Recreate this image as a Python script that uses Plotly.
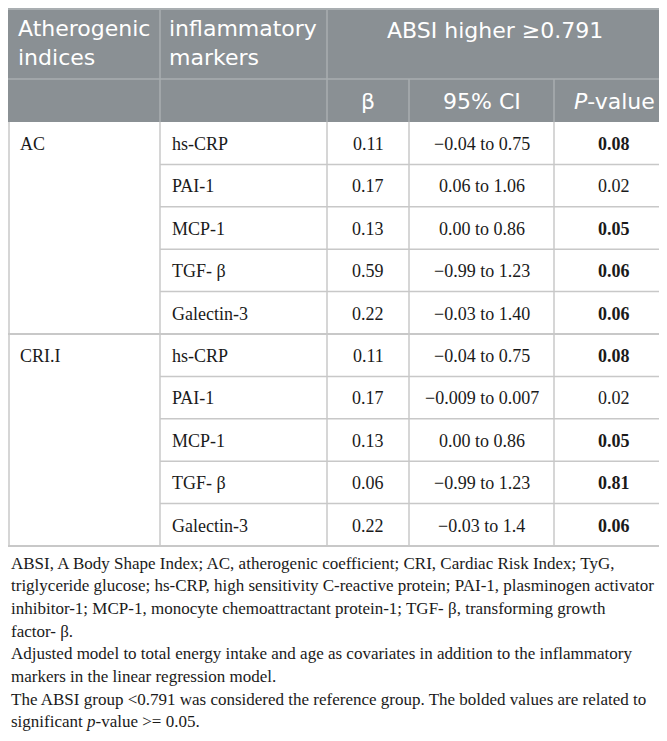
import plotly.graph_objects as go

# table values
indices = ["AC", "CRI.I"]
markers = ["hs-CRP", "PAI-1", "MCP-1", "TGF- β", "Galectin-3"]
beta_ac = [0.11, 0.17, 0.13, 0.59, 0.22]
beta_cri = [0.11, 0.17, 0.13, 0.06, 0.22]
ci_ac = ["−0.04 to 0.75", "0.06 to 1.06", "0.00 to 0.86", "−0.99 to 1.23", "−0.03 to 1.40"]
ci_cri = ["−0.04 to 0.75", "−0.009 to 0.007", "0.00 to 0.86", "−0.99 to 1.23", "−0.03 to 1.4"]
p_ac = [0.08, 0.02, 0.05, 0.06, 0.06]
p_cri = [0.08, 0.02, 0.05, 0.81, 0.06]

footnotes = [
    "ABSI, A Body Shape Index; AC, atherogenic coefficient; CRI, Cardiac Risk Index; TyG,",
    "triglyceride glucose; hs-CRP, high sensitivity C-reactive protein; PAI-1, plasminogen activator",
    "inhibitor-1; MCP-1, monocyte chemoattractant protein-1; TGF- β, transforming growth",
    "factor- β.",
    "Adjusted model to total energy intake and age as covariates in addition to the inflammatory",
    "markers in the linear regression model.",
    "The ABSI group &lt;0.791 was considered the reference group. The bolded values are related to",
    "significant <i>p</i>-value &gt;= 0.05.",
]

W, H = 667, 741
cols = [1, 152, 319, 401, 546, 666]
head_top, head_mid, head_bot = 1, 71, 114
row_h = 42.4
HEAD_FILL = "#8a9094"
HEAD_LINE = "#a9aeb1"
BODY_LINE = "#c8c8c8"
INK = "#1a1a1a"
SANS = "DejaVu Sans"
SERIF = "Liberation Serif"

fig = go.Figure()
shapes = []
ann = []


def line(x0, y0, x1, y1, color, w=1.5):
    shapes.append(dict(type="line", xref="x", yref="y", x0=x0, y0=y0, x1=x1, y1=y1,
                       line=dict(color=color, width=w)))


def text(x, y, s, size, color, font, anchor="left", yanchor="middle"):
    ann.append(dict(x=x, y=y, xref="x", yref="y", text=s, showarrow=False,
                    xanchor=anchor, yanchor=yanchor, align=anchor if anchor != "center" else "center",
                    font=dict(size=size, color=color, family=font)))


# header block
shapes.append(dict(type="rect", xref="x", yref="y", x0=0, y0=head_top, x1=cols[-1], y1=head_bot,
                   fillcolor=HEAD_FILL, line=dict(width=0), layer="below"))
line(0, head_top, cols[-1], head_top, HEAD_LINE, 2)
line(cols[-1] - 0.5, head_top, cols[-1] - 0.5, head_bot, HEAD_LINE, 1.5)
line(0, head_mid, cols[-1], head_mid, HEAD_LINE)
for c in cols[1:3]:
    line(c, head_top, c, head_bot, HEAD_LINE)
for c in cols[3:5]:
    line(c, head_mid, c, head_bot, HEAD_LINE)

text(8, 6, "Atherogenic<br>indices", 22, "white", SANS, yanchor="top")
text(cols[1] + 7, 6, "inflammatory<br>markers", 22, "white", SANS, yanchor="top")
text((cols[2] + cols[5]) / 2 - 6, 22, "ABSI higher ≥0.791", 22, "white", SANS, "center")
text((cols[2] + cols[3]) / 2, 93, "β", 22, "white", SANS, "center")
text((cols[3] + cols[4]) / 2, 93, "95% CI", 22, "white", SANS, "center")
text((cols[4] + cols[5]) / 2, 93, "<i>P</i>-value", 22, "white", SANS, "center")

# body
blocks = [(beta_ac, ci_ac, p_ac), (beta_cri, ci_cri, p_cri)]
y = head_bot
for k, (betas, cis, ps) in enumerate(blocks):
    block_top = y
    text(10, y + 22, indices[k], 18, INK, SERIF)
    for i, m in enumerate(markers):
        yc = y + 22
        text(cols[1] + 10, yc, m, 18, INK, SERIF)
        text((cols[2] + cols[3]) / 2, yc, f"{betas[i]:.2f}", 18, INK, SERIF, "center")
        text((cols[3] + cols[4]) / 2, yc, cis[i], 18, INK, SERIF, "center")
        pv = f"{ps[i]:.2f}"
        if ps[i] >= 0.05:
            pv = f"<b>{pv}</b>"
        text((cols[4] + cols[5]) / 2, yc, pv, 18, INK, SERIF, "center")
        y += row_h
        if i < len(markers) - 1:
            line(cols[1], y, cols[-1], y, BODY_LINE)
    line(0, y, cols[-1], y, BODY_LINE, 2)
    for c in cols:
        line(c, block_top, c, y, BODY_LINE)

# footnotes
fy = 555
for s in footnotes:
    text(1, fy, s, 17, INK, SERIF)
    fy += 22.7

fig.update_layout(
    width=W, height=H,
    margin=dict(l=0, r=0, t=0, b=0),
    paper_bgcolor="white", plot_bgcolor="white",
    xaxis=dict(range=[0, W], visible=False, fixedrange=True),
    yaxis=dict(range=[H, 0], visible=False, fixedrange=True),
    shapes=shapes, annotations=ann, showlegend=False,
)
fig.write_html("out.html")
